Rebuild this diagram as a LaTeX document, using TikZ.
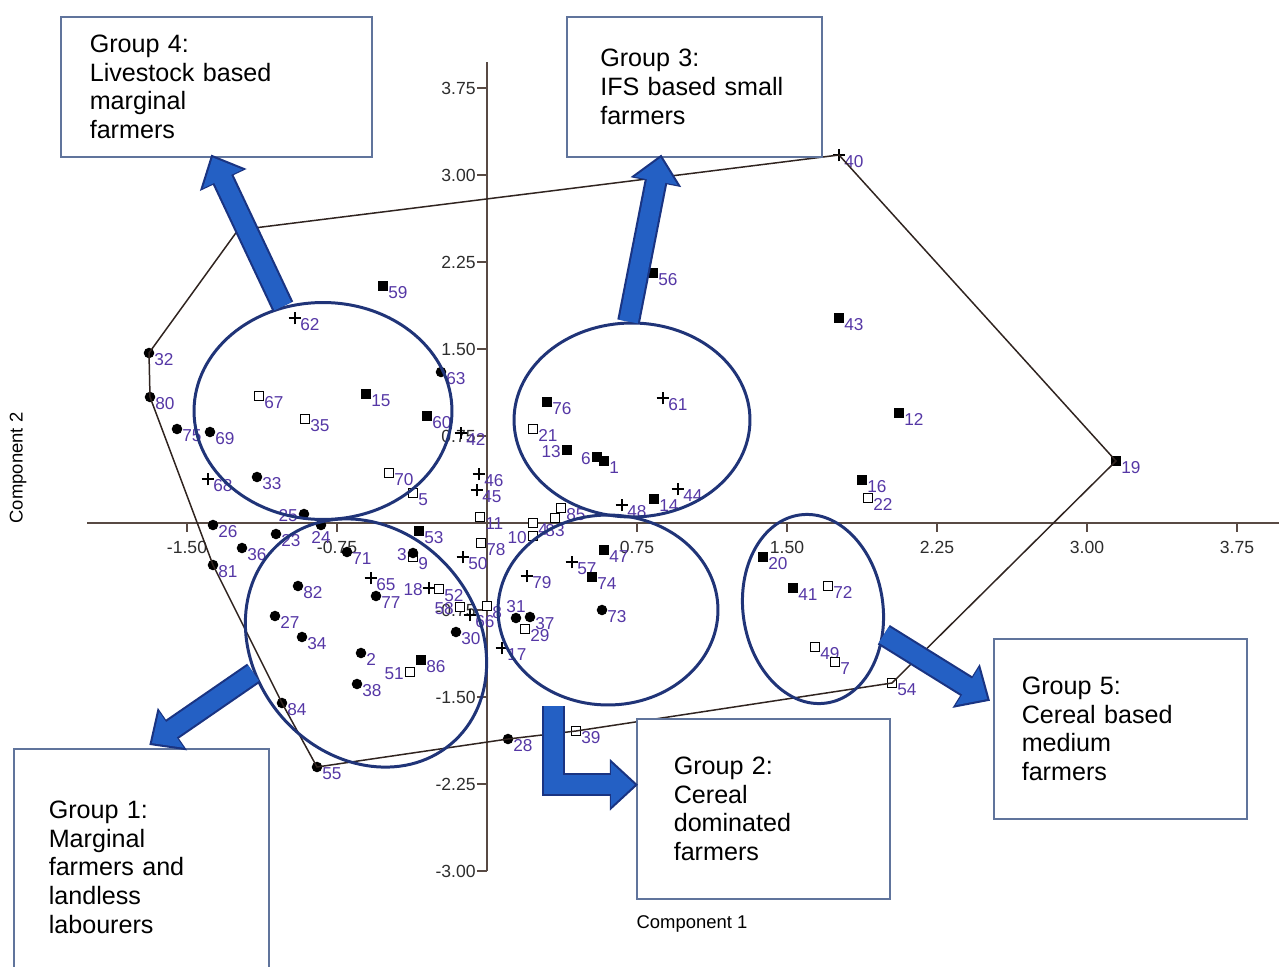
\documentclass[tikz,border=0pt]{standalone}
\usepackage{fontspec}
\setmainfont{Liberation Sans}
\usetikzlibrary{arrows.meta,calc,shapes.geometric,shapes.misc,positioning}

\definecolor{ptlabel}{RGB}{85,55,165}
\definecolor{ellblue}{RGB}{32,52,120}
\definecolor{arrowblue}{RGB}{36,96,196}
\definecolor{arrownavy}{RGB}{26,52,130}
\definecolor{boxline}{RGB}{96,116,156}
\definecolor{axisbrown}{RGB}{88,74,68}
\definecolor{hullline}{RGB}{48,36,32}
\definecolor{ticktext}{RGB}{45,45,45}

\tikzset{
    dotm/.style={circle, fill=black, inner sep=0pt, minimum size=6pt},
    fsq/.style={rectangle, fill=black, inner sep=0pt, minimum size=5.4pt},
    osq/.style={rectangle, draw=black, fill=white, line width=0.7pt, inner sep=0pt, minimum size=4.9pt},
    plusm/.style={cross out, draw=black, line width=0.65pt, rotate=45, inner sep=0pt, minimum size=4.5pt},
    lbl/.style={font=\fontsize{9.8}{11}\selectfont, text=ptlabel, inner sep=0pt},
    lblr/.style={anchor=west, xshift=2.8pt, yshift=-3.6pt},
    lbll/.style={anchor=east, xshift=-3.4pt, yshift=-1pt},
    lbla/.style={anchor=south, yshift=2.6pt},
    lblb/.style={anchor=north, yshift=-3.4pt},
    ticklbl/.style={font=\fontsize{10}{12}\selectfont, text=ticktext, inner sep=0pt}
}

\begin{document}
\begin{tikzpicture}[x=0.02cm, y=-0.02cm,
    axis/.style={draw=axisbrown, line width=1.4pt},
    hull/.style={draw=hullline, line width=0.85pt},
    grpell/.style={ellipse, draw=ellblue, line width=1.7pt, inner sep=0pt},
    grpbox/.style={draw=boxline, line width=0.9pt, fill=white, anchor=north west, align=left, inner sep=0pt, font=\fontsize{14.3}{16.4}\selectfont},
    bigarrow/.style={draw=arrowblue, line width=10.6pt, line join=miter, shorten >=1.8pt, -{Triangle[length=13.5pt,width=24pt]},
        preaction={draw=arrownavy, line width=13pt, line join=miter, shorten >=0pt, -{Triangle[length=16pt,width=28.4pt]}}},
    axistitle/.style={font=\fontsize{10.5}{12}\selectfont, inner sep=0pt}]

    \useasboundingbox (0,0) rectangle (1279,967);
    \clip (0,0) rectangle (1279,967);

    % axes
    \coordinate (xl) at (87,523);
    \coordinate (xr) at (1279,523);
    \coordinate (yt) at (487,62);
    \coordinate (yb) at (487,871);
    \draw[axis] (xl) -- (xr);
    \draw[axis] (yt) -- (yb);
    \foreach \v [count=\i] in {-1.50,-0.75,0.75,1.50,2.25,3.00,3.75} {
        \pgfmathsetmacro\tx{487+200*\v}
        \draw[axis, line width=1pt] (\tx,523) -- ++(0,9);
        \node[ticklbl, anchor=north] (tx\i) at (\tx,541) {\v};
    }
    \foreach \v [count=\i] in {3.75,3.00,2.25,1.50,0.75,-0.75,-1.50,-2.25,-3.00} {
        \pgfmathsetmacro\ty{523-116*\v}
        \draw[axis, line width=1pt] (487,\ty) -- ++(-10,0);
        \node[ticklbl, anchor=east] (ty\i) at (476,\ty) {\v};
    }

    % open squares
    \foreach \n/\x/\y/\p in {67/259/396/r, 35/305/419/r, 70/389/473/r, 5/413/493/r, 11/480/517/r,
        78/481/543/r, 4/533/523/r, 10/533/536/l, 83/555/518/b, 85/561/508/r, 9/413/557/r,
        52/439/589/r, 58/460/607/l, 8/487/606/r, 51/410/672/l, 29/525/629/r, 39/576/731/r,
        21/533/429/r, 22/868/498/r, 72/828/586/r, 49/815/647/r, 7/835/662/r, 54/892/683/r} {
        \node[osq] (p\n) at (\x,\y) {};
        \node[lbl, lbl\p] (l\n) at (p\n.center) {\n};
    }
    % plus marks
    \foreach \n/\x/\y/\p in {62/295/318/r, 68/208/479/r, 42/461/433/r, 46/479/474/r, 45/477/490/r,
        50/463/557/r, 65/371/578/r, 18/429/588/l, 66/470/615/r, 17/502/648/r, 79/527/576/r,
        57/572/562/r, 48/622/505/r, 44/678/489/r, 61/663/398/r, 40/839/155/r} {
        \node[plusm] (p\n) at (\x,\y) {};
        \node[lbl, lbl\p] (l\n) at (p\n.center) {\n};
    }
    % filled squares
    \foreach \n/\x/\y/\p in {59/383/286/r, 15/366/394/r, 60/427/416/r, 53/419/531/r, 86/421/660/r,
        56/653/273/r, 76/547/402/r, 13/567/450/l, 6/597/457/l, 1/604/461/r, 14/654/499/r,
        47/604/550/r, 74/592/577/r, 43/839/318/r, 12/899/413/r, 19/1116/461/r, 16/862/480/r,
        20/763/557/r, 41/793/588/r} {
        \node[fsq] (p\n) at (\x,\y) {};
        \node[lbl, lbl\p] (l\n) at (p\n.center) {\n};
    }
    % filled dots
    \foreach \n/\x/\y/\p in {32/149/353/r, 80/150/397/r, 63/441/372/r, 75/177/429/r, 69/210/432/r,
        33/257/477/r, 25/304/514/l, 24/321/525/b, 26/213/525/r, 23/276/534/r, 36/242/548/r,
        71/347/552/r, 3/413/553/l, 82/298/586/r, 77/376/596/r, 27/275/616/r, 34/302/637/r,
        2/361/653/r, 38/357/684/r, 84/282/703/r, 55/317/767/r, 81/213/565/r, 30/456/632/r,
        31/516/618/a, 37/530/617/r, 28/508/739/r, 73/602/610/r} {
        \node[dotm] (p\n) at (\x,\y) {};
        \node[lbl, lbl\p] (l\n) at (p\n.center) {\n};
    }

    % convex hull
    \coordinate (h64) at (238,230);
    \draw[hull] (p40.center) -- (p19.center) -- (p54.center) -- (p39.center) -- (p28.center)
        -- (p55.center) -- (p84.center) -- (p81.center) -- (p80.center) -- (p32.center) -- (h64) -- cycle;

    % groups
    \node[grpell, minimum width=5.16cm, minimum height=4.34cm] (e4) at (323,411) {};
    \node[grpell, minimum width=4.72cm, minimum height=3.88cm] (e3) at (632,420) {};
    \node[grpell, minimum width=4.4cm, minimum height=3.8cm] (e2) at (608,610) {};
    \node[grpell, minimum width=4.48cm, minimum height=5.28cm, rotate=40] (e1) at (366,643) {};
    \node[grpell, minimum width=2.8cm, minimum height=3.8cm, rotate=8] (e5) at (813,609) {};

    \node[grpbox, minimum width=6.22cm, minimum height=2.8cm, text width=5.06cm] (b4) at (60,16) {Group 4:\\Livestock based\\marginal\\farmers};
    \node[grpbox, minimum width=5.1cm, minimum height=2.8cm, text width=3.76cm] (b3) at (566,16) {Group 3:\\IFS based small\\farmers};
    \node[grpbox, minimum width=5.1cm, minimum height=4.74cm, text width=3.7cm] (b1) at (13,748) {Group 1:\\Marginal\\farmers and\\landless\\labourers};
    \node[grpbox, minimum width=5.06cm, minimum height=3.6cm, text width=3.58cm] (b2) at (636,718) {Group 2:\\Cereal\\dominated\\farmers};
    \node[grpbox, minimum width=5.06cm, minimum height=3.6cm, text width=3.94cm] (b5) at (993,638) {Group 5:\\Cereal based\\medium\\farmers};

    \draw[bigarrow] (e4.111) -- ($(b4.south)+(-5,-3)$);
    \draw[bigarrow] (e3.92) -- ($(b3.south)+(-33,-3)$);
    \draw[bigarrow] (e1.155) -- ($(b1.north)+(8,-3)$);
    \draw[bigarrow] ([yshift=-7pt]e2.237) |- ($(b2.west)+(2,-24)$);
    \draw[bigarrow] (e5.-28) -- ($(b5.west)+(-3,-28)$);

    \node[axistitle, rotate=90] (ylab) at (18,468) {Component 2};
    \node[axistitle] (xlab) at (692,924) {Component 1};
\end{tikzpicture}
\end{document}
